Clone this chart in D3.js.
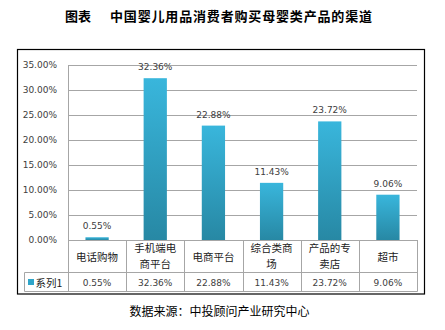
<!DOCTYPE html>
<html><head><meta charset="utf-8">
<script src="https://cdn.jsdelivr.net/npm/d3@7/dist/d3.min.js"></script>
<style>html,body{margin:0;padding:0;background:#fff;}svg{display:block;}</style>
</head><body>
<script>
const titleLead = "图表";
const titleMain = "中国婴儿用品消费者购买母婴类产品的渠道";
const sourceText = "数据来源：中投顾问产业研究中心";
const seriesName = "系列1";
const categories = ["电话购物", "手机端电商平台", "电商平台", "综合类商场", "产品的专卖店", "超市"];
const categoryLines = [["电话购物"], ["手机端电", "商平台"], ["电商平台"], ["综合类商", "场"], ["产品的专", "卖店"], ["超市"]];
const values = [0.0055, 0.3236, 0.2288, 0.1143, 0.2372, 0.0906];
const yTicks = [0, 0.05, 0.10, 0.15, 0.20, 0.25, 0.30, 0.35];

const W = 445, H = 330;
const svg = d3.select("body").append("svg").attr("width", W).attr("height", H);
svg.append("rect").attr("width", W).attr("height", H).attr("fill", "#fff");

const fmt = d3.format(".2%");
const cjk = "'Noto Sans CJK SC', sans-serif";
const latin = "'DejaVu Sans', Verdana, sans-serif";
const gridC = "#a6a6a6";

// Title
svg.append("text").attr("x", 65).attr("y", 15).attr("dominant-baseline", "central")
  .attr("font-family", cjk).attr("font-weight", "bold").attr("font-size", 13).attr("fill", "#000").text(titleLead);
svg.append("text").attr("x", 110).attr("y", 15).attr("dominant-baseline", "central")
  .attr("font-family", cjk).attr("font-weight", "bold").attr("font-size", 13).attr("fill", "#000")
  .attr("textLength", 262).text(titleMain);

// Outer box
svg.append("rect").attr("x", 17.5).attr("y", 49.5).attr("width", 407).attr("height", 244.5)
  .attr("fill", "none").attr("stroke", "#000").attr("stroke-width", 1.2);

const x = d3.scaleBand().domain(categories).range([68, 417]).paddingInner(0.6).paddingOuter(0.3);
const y = d3.scaleLinear().domain([0, 0.35]).range([240, 65]);

// gridlines
svg.append("g").selectAll("line").data(yTicks).join("line")
  .attr("x1", 68).attr("x2", 417).attr("y1", d => Math.round(y(d)) + 0.5).attr("y2", d => Math.round(y(d)) + 0.5)
  .attr("stroke", gridC).attr("stroke-width", 1);
// left axis line
svg.append("line").attr("x1", 68.5).attr("x2", 68.5).attr("y1", y(0.35)).attr("y2", 291.5)
  .attr("stroke", gridC);

// y tick labels
svg.append("g").selectAll("text").data(yTicks).join("text")
  .attr("x", 57).attr("y", d => y(d)).attr("text-anchor", "end").attr("dominant-baseline", "central")
  .attr("font-family", latin).attr("font-size", 9).attr("fill", "#404040").text(d => fmt(d));

// gradient
const defs = svg.append("defs");
const grad = defs.append("linearGradient").attr("id", "barGrad").attr("x1", 0).attr("x2", 0).attr("y1", 0).attr("y2", 1);
grad.append("stop").attr("offset", "0%").attr("stop-color", "#39b6dc");
grad.append("stop").attr("offset", "100%").attr("stop-color", "#2788a4");

// bars
svg.append("g").selectAll("rect").data(values).join("rect")
  .attr("x", (d, i) => x(categories[i])).attr("width", x.bandwidth())
  .attr("y", d => y(d)).attr("height", d => y(0) - y(d))
  .attr("fill", "url(#barGrad)");

// value labels
svg.append("g").selectAll("text").data(values).join("text")
  .attr("x", (d, i) => x(categories[i]) + x.bandwidth() / 2).attr("y", d => y(d) - 11)
  .attr("text-anchor", "middle").attr("dominant-baseline", "central")
  .attr("font-family", latin).attr("font-size", 9).attr("fill", "#404040").text(d => fmt(d));

// data table
const step = x.step();
const colEdges = categories.map((c, i) => 68 + i * step).concat([417]);
const tg = svg.append("g").attr("stroke", gridC).attr("stroke-width", 1);
colEdges.forEach((cx, i) => {
  if (i === 0) return;
  tg.append("line").attr("x1", Math.round(cx) + 0.5).attr("x2", Math.round(cx) + 0.5).attr("y1", 240).attr("y2", 291.5);
});
tg.append("line").attr("x1", 24.5).attr("x2", 417.5).attr("y1", 272.5).attr("y2", 272.5);
tg.append("line").attr("x1", 24.5).attr("x2", 417.5).attr("y1", 291.5).attr("y2", 291.5);
tg.append("line").attr("x1", 24.5).attr("x2", 24.5).attr("y1", 272.5).attr("y2", 291.5);

// category labels
categoryLines.forEach((lines, i) => {
  const cx = x(categories[i]) + x.bandwidth() / 2;
  const y0 = lines.length === 1 ? [256] : [247, 263.5];
  lines.forEach((ln, j) => {
    svg.append("text").attr("x", cx).attr("y", y0[j]).attr("text-anchor", "middle").attr("dominant-baseline", "central")
      .attr("font-family", cjk).attr("font-size", 10.5).attr("fill", "#1a1a1a").text(ln);
  });
});

// series row
svg.append("rect").attr("x", 28).attr("y", 279).attr("width", 6).attr("height", 6).attr("fill", "#2fa5c9");
svg.append("text").attr("x", 35.5).attr("y", 282).attr("dominant-baseline", "central")
  .attr("font-family", cjk).attr("font-size", 10.5).attr("fill", "#1a1a1a").text(seriesName);
svg.append("g").selectAll("text").data(values).join("text")
  .attr("x", (d, i) => x(categories[i]) + x.bandwidth() / 2).attr("y", 282.5)
  .attr("text-anchor", "middle").attr("dominant-baseline", "central")
  .attr("font-family", latin).attr("font-size", 9).attr("fill", "#404040").text(d => fmt(d));

// source
svg.append("text").attr("x", 219.5).attr("y", 310).attr("text-anchor", "middle").attr("dominant-baseline", "central")
  .attr("font-family", cjk).attr("font-size", 12).attr("fill", "#000").text(sourceText);
</script>
</body></html>
